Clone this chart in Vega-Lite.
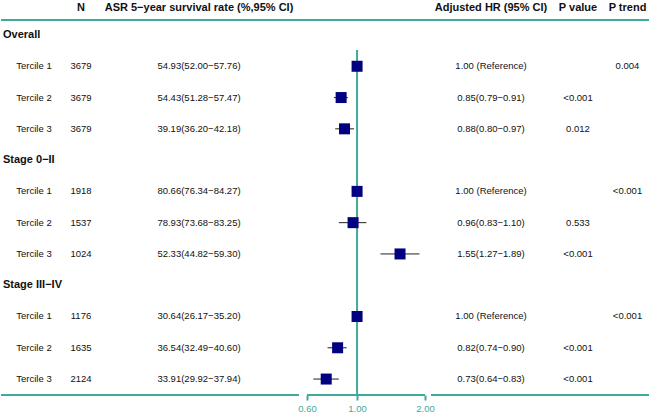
{
  "$schema": "https://vega.github.io/schema/vega-lite/v6.json",
  "padding": 0,
  "autosize": {"type": "pad"},
  "bounds": "flush",
  "spacing": 0,
  "datasets": {
    "groups": [
      {"row": 1, "group": "Overall"},
      {"row": 5, "group": "Stage 0−II"},
      {"row": 9, "group": "Stage III−IV"}
    ],
    "terciles": [
      {"row": 2, "tercile": "Tercile 1", "n": "3679", "asr": "54.93(52.00−57.76)", "hr": 1.0, "lo": null, "hi": null, "hr_ci": "1.00 (Reference)", "p": "", "p_trend": "0.004"},
      {"row": 3, "tercile": "Tercile 2", "n": "3679", "asr": "54.43(51.28−57.47)", "hr": 0.85, "lo": 0.79, "hi": 0.91, "hr_ci": "0.85(0.79−0.91)", "p": "<0.001", "p_trend": ""},
      {"row": 4, "tercile": "Tercile 3", "n": "3679", "asr": "39.19(36.20−42.18)", "hr": 0.88, "lo": 0.80, "hi": 0.97, "hr_ci": "0.88(0.80−0.97)", "p": "0.012", "p_trend": ""},
      {"row": 6, "tercile": "Tercile 1", "n": "1918", "asr": "80.66(76.34−84.27)", "hr": 1.0, "lo": null, "hi": null, "hr_ci": "1.00 (Reference)", "p": "", "p_trend": "<0.001"},
      {"row": 7, "tercile": "Tercile 2", "n": "1537", "asr": "78.93(73.68−83.25)", "hr": 0.96, "lo": 0.83, "hi": 1.10, "hr_ci": "0.96(0.83−1.10)", "p": "0.533", "p_trend": ""},
      {"row": 8, "tercile": "Tercile 3", "n": "1024", "asr": "52.33(44.82−59.30)", "hr": 1.55, "lo": 1.27, "hi": 1.89, "hr_ci": "1.55(1.27−1.89)", "p": "<0.001", "p_trend": ""},
      {"row": 10, "tercile": "Tercile 1", "n": "1176", "asr": "30.64(26.17−35.20)", "hr": 1.0, "lo": null, "hi": null, "hr_ci": "1.00 (Reference)", "p": "", "p_trend": "<0.001"},
      {"row": 11, "tercile": "Tercile 2", "n": "1635", "asr": "36.54(32.49−40.60)", "hr": 0.82, "lo": 0.74, "hi": 0.90, "hr_ci": "0.82(0.74−0.90)", "p": "<0.001", "p_trend": ""},
      {"row": 12, "tercile": "Tercile 3", "n": "2124", "asr": "33.91(29.92−37.94)", "hr": 0.73, "lo": 0.64, "hi": 0.83, "hr_ci": "0.73(0.64−0.83)", "p": "<0.001", "p_trend": ""}
    ],
    "headers": [
      {"col": "n", "title": "N"},
      {"col": "asr", "title": "ASR 5−year survival rate (%,95% CI)"},
      {"col": "hr", "title": "Adjusted HR (95% CI)"},
      {"col": "p", "title": "P value"},
      {"col": "p_trend", "title": "P trend"}
    ]
  },
  "data": {"name": "terciles"},
  "hconcat": [
    {
      "width": 4,
      "height": 395,
      "layer": [
        {"data": {"name": "groups"}, "mark": {"type": "text", "align": "left", "fontWeight": "bold", "fontSize": 11},
         "encoding": {"y": {"field": "row", "type": "quantitative", "scale": {"domain": [-0.119, 12.51], "reverse": true, "nice": false, "zero": false}, "axis": null}, "text": {"field": "group"}}},
        {"data": {"values": [{}]}, "mark": {"type": "rule", "color": "#3FA99B", "strokeWidth": 2}, "encoding": {"y": {"datum": 0.52, "type": "quantitative"}}},
        {"data": {"values": [{}]}, "mark": {"type": "rule", "color": "#3FA99B", "strokeWidth": 2}, "encoding": {"y": {"datum": 12.51, "type": "quantitative"}}}
      ]
    },
    {
      "width": 58,
      "height": 395,
      "layer": [
        {"mark": {"type": "text"},
         "encoding": {"y": {"field": "row", "type": "quantitative", "scale": {"domain": [-0.119, 12.51], "reverse": true, "nice": false, "zero": false}, "axis": null}, "text": {"field": "tercile"}}},
        {"data": {"values": [{}]}, "mark": {"type": "rule", "color": "#3FA99B", "strokeWidth": 2}, "encoding": {"y": {"datum": 0.52, "type": "quantitative"}}},
        {"data": {"values": [{}]}, "mark": {"type": "rule", "color": "#3FA99B", "strokeWidth": 2}, "encoding": {"y": {"datum": 12.51, "type": "quantitative"}}}
      ]
    },
    {
      "width": 36,
      "height": 395,
      "layer": [
        {"mark": {"type": "text"},
         "encoding": {"y": {"field": "row", "type": "quantitative", "scale": {"domain": [-0.119, 12.51], "reverse": true, "nice": false, "zero": false}, "axis": null}, "text": {"field": "n"}}},
        {"data": {"values": [{}]}, "mark": {"type": "rule", "color": "#3FA99B", "strokeWidth": 2}, "encoding": {"y": {"datum": 0.52, "type": "quantitative"}}},
        {"data": {"values": [{}]}, "mark": {"type": "rule", "color": "#3FA99B", "strokeWidth": 2}, "encoding": {"y": {"datum": 12.51, "type": "quantitative"}}},
        {"data": {"name": "headers"}, "transform": [{"filter": "datum.col === 'n'"}], "mark": {"type": "text", "fontWeight": "bold", "fontSize": 11}, "encoding": {"y": {"datum": 0.137, "type": "quantitative"}, "text": {"field": "title"}}}
      ]
    },
    {
      "width": 200,
      "height": 395,
      "layer": [
        {"mark": {"type": "text"},
         "encoding": {"y": {"field": "row", "type": "quantitative", "scale": {"domain": [-0.119, 12.51], "reverse": true, "nice": false, "zero": false}, "axis": null}, "text": {"field": "asr"}}},
        {"data": {"values": [{}]}, "mark": {"type": "rule", "color": "#3FA99B", "strokeWidth": 2}, "encoding": {"y": {"datum": 0.52, "type": "quantitative"}}},
        {"data": {"values": [{}]}, "mark": {"type": "rule", "color": "#3FA99B", "strokeWidth": 2}, "encoding": {"y": {"datum": 12.51, "type": "quantitative"}}},
        {"data": {"name": "headers"}, "transform": [{"filter": "datum.col === 'asr'"}], "mark": {"type": "text", "fontWeight": "bold", "fontSize": 11}, "encoding": {"y": {"datum": 0.137, "type": "quantitative"}, "text": {"field": "title"}}}
      ]
    },
    {
      "width": 132,
      "height": 395,
      "layer": [
        {"transform": [{"filter": "isValid(datum.lo)"}], "mark": {"type": "rule", "color": "#222222", "strokeWidth": 1},
         "encoding": {
           "y": {"field": "row", "type": "quantitative", "scale": {"domain": [-0.119, 12.51], "reverse": true, "nice": false, "zero": false}, "axis": null},
           "x": {"field": "lo", "type": "quantitative", "scale": {"type": "log", "domain": [0.553, 2.126], "nice": false, "zero": false},
                 "axis": {"values": [0.6, 1, 2], "format": ".2f", "title": null, "grid": false, "domain": false, "ticks": true, "tickColor": "#3FA99B", "tickWidth": 2, "tickSize": 5, "labelColor": "#3FA99B", "labelFontSize": 9.5, "labelPadding": 3, "labelFont": "Liberation Sans"}},
           "x2": {"field": "hi"}
         }},
        {"data": {"values": [{}]}, "mark": {"type": "rule", "color": "#3FA99B", "strokeWidth": 2}, "encoding": {"y": {"datum": 0.52, "type": "quantitative"}}},
        {"data": {"values": [{}]}, "mark": {"type": "rule", "color": "#3FA99B", "strokeWidth": 2},
         "encoding": {"x": {"datum": 0.6, "type": "quantitative"}, "x2": {"datum": 2.0}, "y": {"datum": 12.51, "type": "quantitative"}}},
        {"data": {"values": [{}]}, "mark": {"type": "rule", "color": "#3FA99B", "strokeWidth": 2},
         "encoding": {"x": {"datum": 1, "type": "quantitative"}, "y": {"datum": 1.48, "type": "quantitative"}, "y2": {"datum": 12.51}}},
        {"mark": {"type": "point", "shape": "square", "filled": true, "size": 121, "color": "#000080", "opacity": 1},
         "encoding": {"x": {"field": "hr", "type": "quantitative"}, "y": {"field": "row", "type": "quantitative"}}}
      ]
    },
    {
      "width": 120,
      "height": 395,
      "layer": [
        {"mark": {"type": "text"},
         "encoding": {"y": {"field": "row", "type": "quantitative", "scale": {"domain": [-0.119, 12.51], "reverse": true, "nice": false, "zero": false}, "axis": null}, "text": {"field": "hr_ci"}}},
        {"data": {"values": [{}]}, "mark": {"type": "rule", "color": "#3FA99B", "strokeWidth": 2}, "encoding": {"y": {"datum": 0.52, "type": "quantitative"}}},
        {"data": {"values": [{}]}, "mark": {"type": "rule", "color": "#3FA99B", "strokeWidth": 2}, "encoding": {"y": {"datum": 12.51, "type": "quantitative"}}},
        {"data": {"name": "headers"}, "transform": [{"filter": "datum.col === 'hr'"}], "mark": {"type": "text", "fontWeight": "bold", "fontSize": 11}, "encoding": {"y": {"datum": 0.137, "type": "quantitative"}, "text": {"field": "title"}}}
      ]
    },
    {
      "width": 54,
      "height": 395,
      "layer": [
        {"mark": {"type": "text"},
         "encoding": {"y": {"field": "row", "type": "quantitative", "scale": {"domain": [-0.119, 12.51], "reverse": true, "nice": false, "zero": false}, "axis": null}, "text": {"field": "p"}}},
        {"data": {"values": [{}]}, "mark": {"type": "rule", "color": "#3FA99B", "strokeWidth": 2}, "encoding": {"y": {"datum": 0.52, "type": "quantitative"}}},
        {"data": {"values": [{}]}, "mark": {"type": "rule", "color": "#3FA99B", "strokeWidth": 2}, "encoding": {"y": {"datum": 12.51, "type": "quantitative"}}},
        {"data": {"name": "headers"}, "transform": [{"filter": "datum.col === 'p'"}], "mark": {"type": "text", "fontWeight": "bold", "fontSize": 11}, "encoding": {"y": {"datum": 0.137, "type": "quantitative"}, "text": {"field": "title"}}}
      ]
    },
    {
      "width": 45,
      "height": 395,
      "layer": [
        {"mark": {"type": "text"},
         "encoding": {"y": {"field": "row", "type": "quantitative", "scale": {"domain": [-0.119, 12.51], "reverse": true, "nice": false, "zero": false}, "axis": null}, "text": {"field": "p_trend"}}},
        {"data": {"values": [{}]}, "mark": {"type": "rule", "color": "#3FA99B", "strokeWidth": 2}, "encoding": {"y": {"datum": 0.52, "type": "quantitative"}}},
        {"data": {"values": [{}]}, "mark": {"type": "rule", "color": "#3FA99B", "strokeWidth": 2}, "encoding": {"y": {"datum": 12.51, "type": "quantitative"}}},
        {"data": {"name": "headers"}, "transform": [{"filter": "datum.col === 'p_trend'"}], "mark": {"type": "text", "fontWeight": "bold", "fontSize": 11}, "encoding": {"y": {"datum": 0.137, "type": "quantitative"}, "text": {"field": "title"}}}
      ]
    }
  ],
  "config": {
    "view": {"stroke": null},
    "text": {"font": "Liberation Sans", "fontSize": 9.5, "color": "#111111"}
  }
}
